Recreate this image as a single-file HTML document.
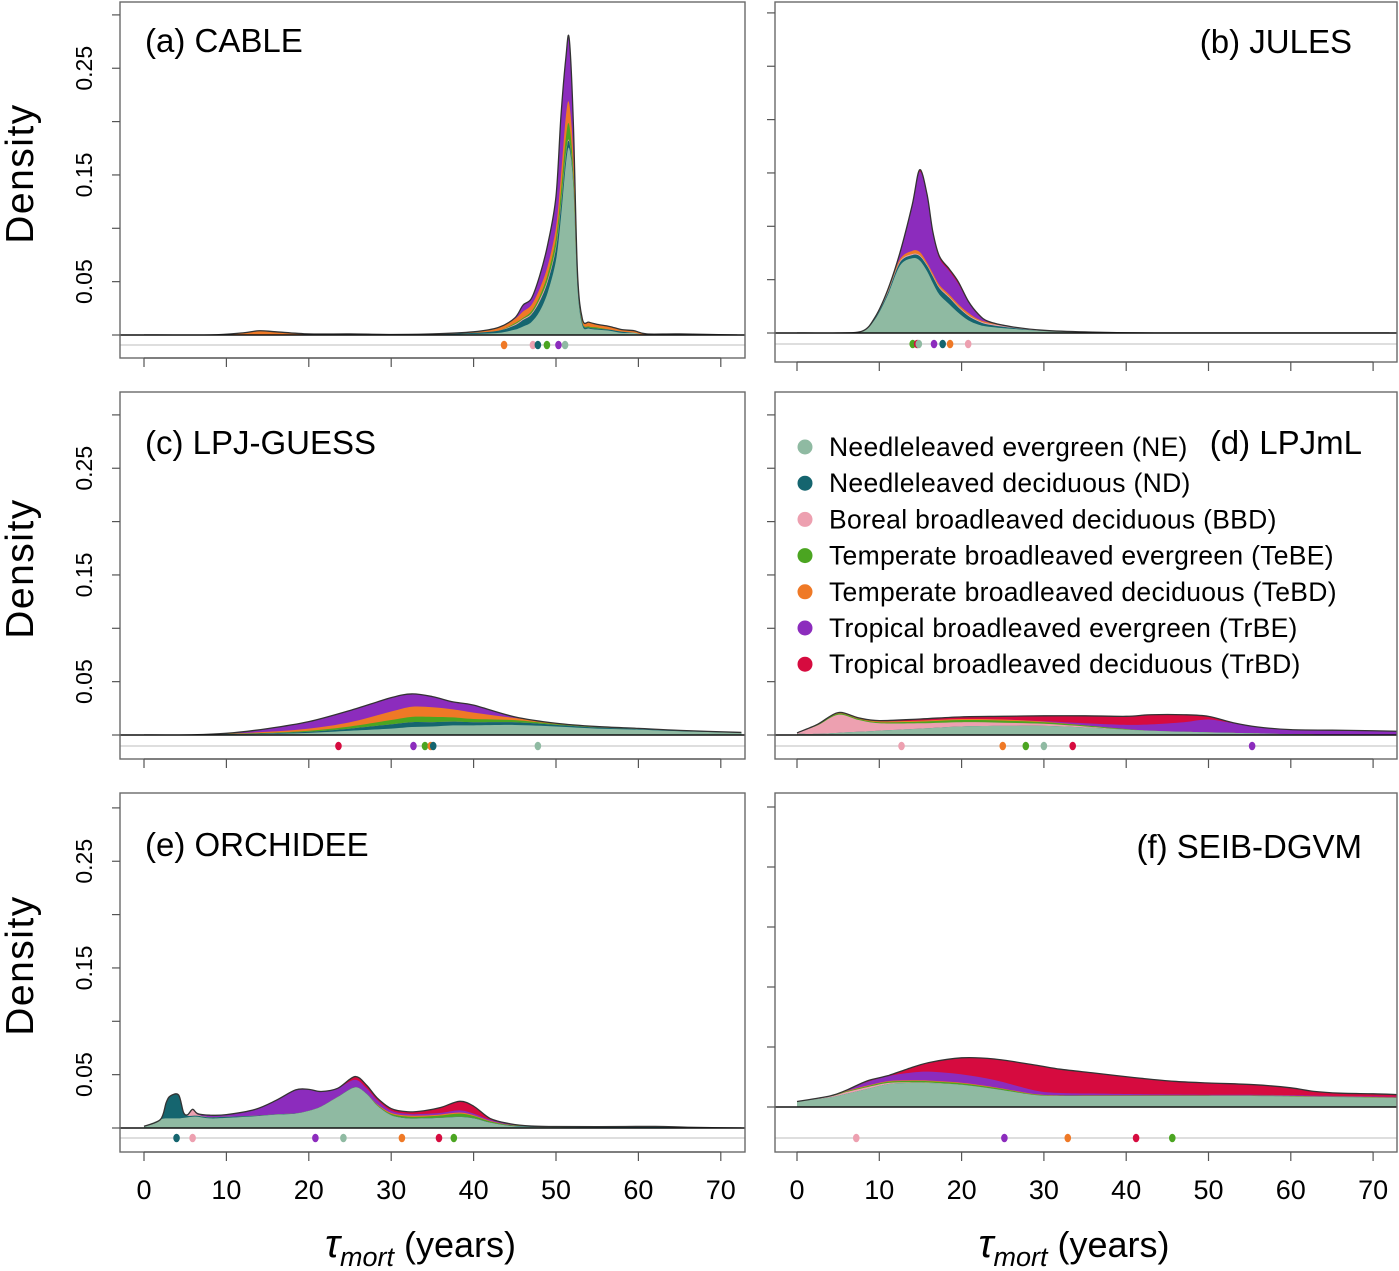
<!DOCTYPE html>
<html><head><meta charset="utf-8"><style>
body{margin:0;background:#fff}
svg{display:block}
text{font-family:"Liberation Sans Narrow","Liberation Sans",sans-serif;fill:#000}
</style></head><body>
<svg id="chart" width="1399" height="1271" viewBox="0 0 1399 1271" xmlns="http://www.w3.org/2000/svg"></svg>
<script>
// ---------- data ----------
const pftOrder = ['NE','ND','BBD','TeBE','TeBD','TrBE','TrBD'];
const pftLabels = ['Needleleaved evergreen (NE)','Needleleaved deciduous (ND)','Boreal broadleaved deciduous (BBD)','Temperate broadleaved evergreen (TeBE)','Temperate broadleaved deciduous (TeBD)','Tropical broadleaved evergreen (TrBE)','Tropical broadleaved deciduous (TrBD)'];
const xTicks = [0,10,20,30,40,50,60,70];
const yTickLabels = ['0.05','0.15','0.25'];

// (a) CABLE
const cableX   = [0,8,12,14,16,20,25,30,35,40,43,45,46,47,48,49,50,50.6,51.2,51.6,52.1,52.6,53.2,54,55,56.5,58,59.5,61,65,72];
const cableNE  = [0,0,0,0,0,0,0,0,0,.001,.002,.005,.008,.012,.022,.04,.07,.11,.16,.175,.14,.045,.009,.006,.005,.004,.002,.002,0,0,0];
const cableND  = [0,0,0,0,0,0,.0005,0,.0005,.001,.002,.004,.006,.007,.009,.01,.011,.01,.008,.006,.003,.003,.002,.001,.001,.001,.001,0,0,0,0];
const cableBBD = [0,0,0,0,0,0,0,0,0,0,0,.001,.001,.001,.002,.002,.002,.002,.002,.001,.001,0,0,0,0,0,0,0,0,0,0];
const cableTeBE= [0,0,0,0,0,0,0,0,0,0,0,.001,.001,.002,.003,.005,.008,.012,.015,.015,.01,.003,.001,.001,.001,0,0,0,0,0,0];
const cableTeBD= [0,0,.002,.004,.003,.001,.0005,.0005,.0005,.001,.003,.004,.006,.006,.007,.008,.01,.015,.02,.02,.015,.005,.003,.004,.003,.003,.002,.002,.001,.001,0];
const cableTrBE= [0,0,0,0,0,0,0,0,0,0,0,.001,.006,.006,.012,.02,.029,.056,.055,.061,.031,.004,0,0,0,0,0,0,0,0,0];
const cableTrBD= [0,0,0,0,0,0,0,0,0,0,0,0,0,0,0,0,0,0,0,0,0,0,0,0,0,0,0,0,0,0,0];
const cableRug = {TeBD:43.7,BBD:47.2,ND:47.8,TeBE:48.9,TrBE:50.3,NE:51.1};

// (b) JULES
const julesX   = [0,5,8,9.5,11,12.5,14,14.9,15.8,16.5,17.3,18.5,19.6,20.8,22,23.2,26,30,35,45,72];
const julesNE  = [0,0,.002,.013,.035,.063,.07,.068,.058,.047,.036,.027,.019,.012,.008,.006,.004,.002,.001,0,0];
const julesND  = [0,0,0,.001,.002,.003,.003,.004,.005,.006,.006,.006,.005,.004,.003,.002,.001,0,0,0,0];
const julesBBD = [0,0,0,0,.001,.001,.001,.001,.001,.001,.001,.001,.001,.001,.001,.001,.001,.0005,0,0,0];
const julesTeBE= [0,0,0,0,0,0,0,0,0,0,0,0,0,0,0,0,0,0,0,0,0];
const julesTeBD= [0,0,0,.001,.002,.002,.003,.003,.002,.002,.002,.002,.002,.002,.001,.001,0,0,0,0,0];
const julesTrBE= [0,0,0,0,0,.005,.042,.075,.062,.037,.025,.022,.019,.01,.004,.001,0,0,0,0,0];
const julesTrBD= [0,0,0,0,0,.001,.001,.002,.002,.002,.002,.002,.002,.001,.001,0,0,0,0,0,0];
const julesRug = {TeBE:14.06,TrBD:14.6,NE:14.8,TrBE:16.65,ND:17.7,TeBD:18.6,BBD:20.8};

// (c) LPJ-GUESS
const guessX   = [0,5,10,15,20,25,30,32.5,35,37.5,40,45,50,55,60,65,72.5];
const guessNE  = [0,0,.0005,.001,.002,.004,.006,.0075,.008,.009,.009,.0094,.008,.006,.005,.0035,.002];
const guessND  = [0,0,.0003,.0005,.001,.002,.004,.0045,.004,.0035,.003,.0025,.0015,.001,.0007,.0005,.0003];
const guessBBD = [0,0,0,0,0,0,0,0,0,0,0,0,0,0,0,0,0];
const guessTeBE= [0,0,.0002,.0005,.001,.002,.004,.005,.005,.004,.003,.002,.0007,.0004,.0002,.0001,0];
const guessTeBD= [0,0,.0003,.001,.002,.004,.008,.0095,.009,.0075,.006,.002,.0008,.0005,.0003,.0002,.0001];
const guessTrBE= [0,0,.0003,.003,.0065,.011,.013,.012,.01,.007,.007,.0011,0,0,0,0,0];
const guessTrBD= [0,0,0,0,0,0,0,0,0,0,0,0,0,0,0,0,0];
const guessRug = {TrBD:23.6,TrBE:32.7,TeBE:34.1,TeBD:34.8,ND:35.1,NE:47.8};

// (d) LPJmL
const lpjmlX   = [0,2.5,5,7.5,10,15,20,25,30,35,40,43,47,50,53,56,60,65,70,73];
const lpjmlNE  = [.001,.001,.002,.003,.004,.006,.008,.0085,.0085,.007,.005,.004,.003,.0025,.002,.0015,.0008,.0003,0,0];
const lpjmlND  = [0,0,0,0,0,0,0,0,0,0,0,0,0,0,0,0,0,0,0,0];
const lpjmlBBD = [.001,.008,.017,.011,.007,.005,.004,.003,.002,.001,0,0,0,0,0,0,0,0,0,0];
const lpjmlTeBE= [0,.0005,.001,.001,.001,.0015,.002,.002,.0015,.001,.0005,0,0,0,0,0,0,0,0,0];
const lpjmlTeBD= [0,.0005,.001,.001,.001,.001,.001,.001,.0005,0,0,0,0,0,0,0,0,0,0,0];
const lpjmlTrBE= [0,0,0,0,0,0,0,0,.0005,.002,.004,.006,.009,.012,.009,.006,.0042,.0042,.004,.0035];
const lpjmlTrBD= [0,0,0,0,.0005,.0015,.002,.003,.005,.007,.008,.009,.007,.003,.0005,0,0,0,0,0];
const lpjmlRug = {BBD:12.7,TeBD:25.0,TeBE:27.8,NE:30.0,TrBD:33.5,TrBE:55.3};

// (e) ORCHIDEE
const orchX    = [0,2,2.7,3.2,4.2,4.8,5.3,5.9,6.5,8,10,13.5,16,18.4,20,21.5,23.5,25.6,27,28.3,30,32,34,36,38.3,40,42,44.4,47,50,55,62,66,72.5];
const orchNE   = [.0016,.008,.009,.009,.009,.0095,.01,.0105,.0105,.009,.0095,.011,.0125,.0135,.016,.02,.029,.038,.032,.021,.012,.009,.009,.0095,.0103,.009,.005,.002,.001,.0008,.0005,.0005,.0002,0];
const orchND   = [0,0,.015,.021,.022,.005,.0015,.001,.001,.001,.001,.0005,.0003,.0002,.0002,.0002,.0002,.0002,.0002,.0002,.0002,.0002,.0002,.0002,.0002,.0002,.0002,.0003,.0005,.0006,.0008,.001,.0005,0];
const orchBBD  = [0,0,0,0,0,0,.001,.006,.001,0,0,0,0,0,0,0,0,0,0,0,0,0,0,0,0,0,0,0,0,0,0,0,0,0];
const orchTeBE = [0,0,0,0,0,0,0,0,0,0,0,0,0,0,0,0,0,0,0,.0005,.001,.0015,.0015,.002,.003,.002,.001,.0005,.0003,0,0,0,0,0];
const orchTeBD = [0,0,0,0,0,0,0,0,0,0,0,0,0,0,0,0,0,0,0,.0005,.001,.001,.001,.001,.001,.0008,.0005,.0002,0,0,0,0,0,0];
const orchTrBE = [0,0,0,0,0,0,0,0,.001,.002,.002,.006,.013,.022,.02,.014,.008,.007,.005,.004,.002,.0015,.0015,.0015,.002,.0015,.001,.0005,0,0,0,0,0,0];
const orchTrBD = [0,0,0,0,0,0,0,0,0,0,0,0,0,0,0,0,0,.003,.003,.002,.002,.002,.003,.005,.0085,.007,.0013,.0005,0,0,0,0,0,0];
const orchRug  = {ND:3.95,BBD:5.9,TrBE:20.8,NE:24.2,TeBD:31.3,TrBD:35.8,TeBE:37.6};

// (f) SEIB-DGVM
const seibX    = [0,4,6,8.5,11,13.3,16,20,24,28.9,32,36.1,41,45.8,50,55.5,60,62.8,66,70,73];
const seibNE   = [.0045,.008,.011,.015,.019,.02,.02,.0185,.015,.01,.0092,.0092,.0092,.0092,.0092,.0092,.0088,.0085,.0082,.0078,.0075];
const seibND   = [0,0,0,0,0,0,0,0,0,0,0,0,0,0,0,0,0,0,0,0,0];
const seibBBD  = [0,.0007,.0015,.0015,.001,.0005,.0003,0,0,0,0,0,0,0,0,0,0,0,0,0,0];
const seibTeBE = [0,.0003,.0005,.0008,.001,.0012,.0012,.0012,.001,.0005,.0003,.0003,.0003,.0003,.0003,.0003,.0003,.0003,.0003,.0003,.0003];
const seibTeBD = [0,.0002,.0003,.0005,.0005,.0005,.0005,.0005,.0005,.0003,.0002,.0002,.0002,.0002,.0002,.0002,.0002,.0002,.0002,.0002,.0002];
const seibTrBE = [0,0,.0005,.003,.004,.006,.0075,.007,.006,.003,.002,.0015,.001,.0007,.0005,.0005,.0005,.0005,.0005,.0005,.0005];
const seibTrBD = [.0001,0,.0002,.0009,.0005,.0032,.0075,.0138,.0175,.0212,.0198,.0171,.0138,.011,.0098,.0084,.0062,.0035,.0023,.0022,.0018];
const seibRug  = {BBD:7.2,TrBE:25.2,TeBD:32.9,TrBD:41.2,TeBE:45.6};

// ---------- style / layout ----------
const colors = {NE:'#8fbaa2',ND:'#15656f',BBD:'#eda0b0',TeBE:'#4ba521',TeBD:'#ef7926',TrBE:'#8c2cbd',TrBD:'#d60b3f'};
const panels = [
 {id:'a',title:'(a) CABLE',left:true,box:[120,2,745,358],x0:144,k:8.24,base:335,s:1067,rug:345,tx:145,ty:52,anchor:'start',
  X:cableX,L:{NE:cableNE,ND:cableND,BBD:cableBBD,TeBE:cableTeBE,TeBD:cableTeBD,TrBE:cableTrBE,TrBD:cableTrBD},rugv:cableRug,labels:false},
 {id:'b',title:'(b) JULES',left:false,box:[775,2,1397,362],x0:797,k:8.23,base:333,s:1067,rug:344,tx:1352,ty:53,anchor:'end',
  X:julesX,L:{NE:julesNE,ND:julesND,BBD:julesBBD,TeBE:julesTeBE,TeBD:julesTeBD,TrBE:julesTrBE,TrBD:julesTrBD},rugv:julesRug,labels:false},
 {id:'c',title:'(c) LPJ-GUESS',left:true,box:[120,392,745,759],x0:144,k:8.24,base:735,s:1067,rug:746,tx:145,ty:454,anchor:'start',
  X:guessX,L:{NE:guessNE,ND:guessND,BBD:guessBBD,TeBE:guessTeBE,TeBD:guessTeBD,TrBE:guessTrBE,TrBD:guessTrBD},rugv:guessRug,labels:false},
 {id:'d',title:'(d) LPJmL',left:false,box:[775,392,1397,759],x0:797,k:8.23,base:735,s:1067,rug:746,tx:1362,ty:454,anchor:'end',
  X:lpjmlX,L:{NE:lpjmlNE,ND:lpjmlND,BBD:lpjmlBBD,TeBE:lpjmlTeBE,TeBD:lpjmlTeBD,TrBE:lpjmlTrBE,TrBD:lpjmlTrBD},rugv:lpjmlRug,labels:false},
 {id:'e',title:'(e) ORCHIDEE',left:true,box:[120,793,745,1152],x0:144,k:8.24,base:1128,s:1067,rug:1138,tx:145,ty:856,anchor:'start',
  X:orchX,L:{NE:orchNE,ND:orchND,BBD:orchBBD,TeBE:orchTeBE,TeBD:orchTeBD,TrBE:orchTrBE,TrBD:orchTrBD},rugv:orchRug,labels:true},
 {id:'f',title:'(f) SEIB-DGVM',left:false,box:[775,793,1397,1152],x0:797,k:8.23,base:1107,s:1200,rug:1138,tx:1362,ty:858,anchor:'end',
  X:seibX,L:{NE:seibNE,ND:seibND,BBD:seibBBD,TeBE:seibTeBE,TeBD:seibTeBD,TrBE:seibTrBE,TrBD:seibTrBD},rugv:seibRug,labels:true}
];

const NS='http://www.w3.org/2000/svg';
const svg=document.getElementById('chart');
function mk(tag,attrs,parent){const e=document.createElementNS(NS,tag);for(const a in attrs)e.setAttribute(a,attrs[a]);(parent||svg).appendChild(e);return e;}

function smoothPath(pts){
  let d='M'+pts[0][0].toFixed(2)+','+pts[0][1].toFixed(2);
  for(let i=0;i<pts.length-1;i++){
    const p0=pts[Math.max(0,i-1)],p1=pts[i],p2=pts[i+1],p3=pts[Math.min(pts.length-1,i+2)];
    const t=0.16;
    const c1=[p1[0]+(p2[0]-p0[0])*t,p1[1]+(p2[1]-p0[1])*t];
    const c2=[p2[0]-(p3[0]-p1[0])*t,p2[1]-(p3[1]-p1[1])*t];
    d+='C'+c1[0].toFixed(2)+','+c1[1].toFixed(2)+' '+c2[0].toFixed(2)+','+c2[1].toFixed(2)+' '+p2[0].toFixed(2)+','+p2[1].toFixed(2);
  }
  return d;
}

panels.forEach(p=>{
  const [bx0,by0,bx1,by1]=p.box;
  const g=mk('g',{});
  
  
  const xs=v=>p.x0+v*p.k;
  const ys=v=>p.base-v*p.s;
  const clip=mk('clipPath',{id:'clip'+p.id},g);
  mk('rect',{x:bx0,y:by0,width:bx1-bx0,height:p.base-by0},clip);
  const plot=mk('g',{'clip-path':'url(#clip'+p.id+')'},g);
  const cum=[];let run=p.X.map(()=>0);
  pftOrder.forEach(k=>{run=run.map((v,i)=>v+p.L[k][i]);cum.push(run.slice());});
  for(let li=pftOrder.length-1;li>=0;li--){
    const pts=p.X.map((x,i)=>[xs(x),ys(cum[li][i])]);
    let d=smoothPath(pts);
    d+='L'+xs(p.X[p.X.length-1]).toFixed(2)+','+p.base+'L'+xs(p.X[0]).toFixed(2)+','+p.base+'Z';
    const a=mk('path',{d:d,fill:colors[pftOrder[li]],stroke:'none'},plot);
    
    
  }
  const tp=p.X.map((x,i)=>[xs(x),ys(cum[pftOrder.length-1][i])]);
  const outline=mk('path',{d:smoothPath(tp),fill:'none',stroke:'#333','stroke-width':1.3},plot);
  
  
  mk('line',{x1:bx0,x2:bx1,y1:p.base,y2:p.base,stroke:'#111','stroke-width':1.6},g);
  mk('line',{x1:bx0,x2:bx1,y1:p.rug,y2:p.rug,stroke:'#d4d4d4','stroke-width':1.4},g);
  for(const k in p.rugv){
    const dot=mk('ellipse',{cx:xs(p.rugv[k]),cy:p.rug,rx:3.3,ry:4.3,fill:colors[k]},g);
    
    
  }
  const box=mk('rect',{x:bx0,y:by0,width:bx1-bx0,height:by1-by0,fill:'none',stroke:'#6a6a6a','stroke-width':1.4},g);
  
  
  for(let t=0;t<=0.3001;t+=0.05){
    const y=ys(t); if(y<by0+4) continue;
    mk('line',{x1:bx0-8,x2:bx0,y1:y,y2:y,stroke:'#555','stroke-width':1.2},g);
  }
  if(p.left){
    [0.05,0.15,0.25].forEach((t,i)=>{
      const y=ys(t);
      const tl=mk('text',{x:0,y:0,transform:'translate(92,'+y+') rotate(-90)','text-anchor':'middle','font-size':23},g);
      tl.textContent=yTickLabels[i];
      
      
    });
    const yt=mk('text',{x:0,y:0,transform:'translate(33,'+((by0+p.base)/2+5)+') rotate(-90)','text-anchor':'middle','font-size':39,'letter-spacing':1.5,'font-family':'Liberation Sans, sans-serif'},g);
    yt.textContent='Density';
    
    
  }
  mk('line',{x1:xs(0),x2:xs(70),y1:by1,y2:by1,stroke:'#555','stroke-width':1.2},g);
  xTicks.forEach(t=>{
    mk('line',{x1:xs(t),x2:xs(t),y1:by1,y2:by1+9,stroke:'#555','stroke-width':1.2},g);
    if(p.labels){
      const tl=mk('text',{x:xs(t),y:by1+47,'text-anchor':'middle','font-size':27},g);
      tl.textContent=t;
      
      
    }
  });
  if(p.labels){
    const xt=mk('text',{x:(bx0+bx1)/2-12,y:by1+105,'text-anchor':'middle','font-size':36},g);
    xt.innerHTML='<tspan font-style="italic" font-size="40">τ</tspan><tspan font-style="italic" font-size="27" dy="9">mort</tspan><tspan dy="-9"> (years)</tspan>';
    
    
  }
  const title=mk('text',{x:p.tx,y:p.ty,'text-anchor':p.anchor,'font-size':33},g);
  title.textContent=p.title;
  
  
});

const lg=mk('g',{});


pftOrder.forEach((k,i)=>{
  const y=447+i*36.2;
  const c=mk('circle',{cx:805,cy:y,r:7.5,fill:colors[k]},lg);
  
  
  const t=mk('text',{x:829,y:y+9,'font-size':26.5,'letter-spacing':0.3,'font-family':'Liberation Sans, sans-serif'},lg);
  t.textContent=pftLabels[i];
  
  
});
</script>
</body></html>
